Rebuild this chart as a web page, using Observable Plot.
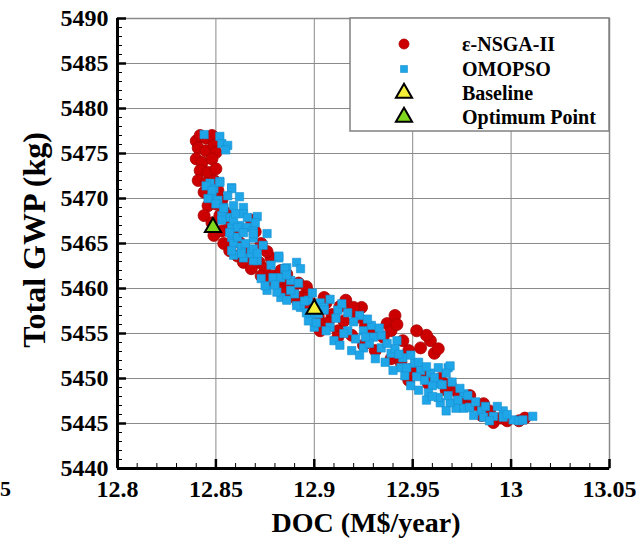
<!DOCTYPE html>
<html><head><meta charset="utf-8">
<script src="https://cdn.jsdelivr.net/npm/d3@7"></script>
<script src="https://cdn.jsdelivr.net/npm/@observablehq/plot@0.6"></script>
<style>body{margin:0;background:#fff} svg{display:block}</style>
</head><body><div id="chart"></div>
<script>
// ---- data (DOC M$/year, Total GWP kg) ----
const nsga = [[12.840,5476.4],[12.842,5477.0],[12.845,5476.7],[12.848,5477.0],[12.841,5475.6],[12.845,5475.3],[12.849,5475.9],[12.850,5475.1],[12.840,5474.4],[12.843,5474.0],[12.848,5474.4],[12.842,5473.1],[12.846,5472.9],[12.850,5473.3],[12.841,5472.0],[12.845,5471.7],[12.849,5472.0],[12.844,5470.7],[12.848,5470.3],[12.851,5470.9],[12.846,5469.2],[12.850,5469.4],[12.853,5469.8],[12.844,5468.1],[12.848,5467.3],[12.852,5468.1],[12.855,5468.4],[12.849,5465.9],[12.853,5466.4],[12.857,5467.0],[12.859,5465.9],[12.854,5465.0],[12.862,5465.1],[12.857,5464.2],[12.865,5464.4],[12.861,5463.6],[12.868,5463.7],[12.864,5462.9],[12.872,5462.9],[12.868,5462.2],[12.875,5462.2],[12.873,5461.4],[12.879,5461.4],[12.878,5460.7],[12.884,5460.7],[12.883,5459.8],[12.889,5460.0],[12.888,5459.1],[12.894,5459.1],[12.892,5458.3],[12.899,5458.3],[12.897,5457.6],[12.904,5457.8],[12.902,5456.9],[12.909,5457.1],[12.907,5456.2],[12.916,5458.7],[12.919,5457.6],[12.915,5456.4],[12.924,5457.9],[12.922,5456.8],[12.912,5455.3],[12.919,5454.8],[12.926,5455.9],[12.930,5455.1],[12.937,5456.1],[12.939,5455.3],[12.935,5454.6],[12.941,5457.0],[12.945,5454.2],[12.948,5453.1],[12.954,5453.4],[12.959,5454.2],[12.961,5452.8],[12.957,5454.8],[12.925,5453.7],[12.931,5453.1],[12.939,5452.2],[12.944,5451.8],[12.950,5451.1],[12.955,5450.7],[12.959,5450.0],[12.964,5450.0],[12.969,5449.4],[12.967,5448.7],[12.973,5448.4],[12.978,5447.6],[12.975,5447.0],[12.982,5447.1],[12.986,5447.2],[12.989,5446.4],[12.985,5445.9],[12.991,5445.1],[12.995,5445.6],[12.998,5445.3],[13.004,5445.3],[13.007,5445.6],[12.979,5448.1],[12.902,5456.4],[12.903,5455.3],[12.912,5454.6],[12.958,5449.4],[12.948,5449.8],[12.868,5467.6],[12.873,5465.0],[12.878,5463.4],[12.883,5462.0],[12.887,5460.7],[12.892,5460.6],[12.897,5459.6],[12.906,5458.4],[12.920,5457.9],[12.870,5466.3],[12.876,5464.1],[12.886,5461.6],[12.896,5460.2],[12.905,5459.0],[12.913,5458.0],[12.942,5456.0],[12.952,5455.3],[12.963,5453.3]];

const omopso = [[12.844,5477.1],[12.852,5476.9],[12.853,5476.1],[12.856,5475.9],[12.855,5475.4],[12.847,5471.7],[12.852,5471.9],[12.849,5471.1],[12.858,5471.2],[12.848,5470.1],[12.851,5469.8],[12.854,5469.0],[12.859,5469.2],[12.864,5469.0],[12.871,5468.0],[12.876,5466.1],[12.856,5467.9],[12.853,5468.1],[12.858,5466.8],[12.862,5467.0],[12.866,5466.8],[12.869,5466.4],[12.858,5465.7],[12.859,5465.0],[12.863,5464.6],[12.868,5464.2],[12.859,5463.7],[12.864,5463.4],[12.871,5463.1],[12.882,5463.4],[12.891,5462.9],[12.886,5462.3],[12.864,5468.3],[12.869,5465.6],[12.882,5463.6],[12.893,5462.2],[12.885,5462.2],[12.879,5461.2],[12.888,5460.9],[12.873,5461.1],[12.869,5463.1],[12.868,5463.9],[12.876,5459.8],[12.883,5459.0],[12.890,5459.4],[12.897,5458.7],[12.903,5458.4],[12.905,5457.9],[12.893,5457.9],[12.883,5461.2],[12.888,5459.8],[12.898,5456.8],[12.905,5457.6],[12.912,5457.6],[12.917,5457.3],[12.923,5457.0],[12.908,5455.7],[12.917,5455.3],[12.925,5455.3],[12.930,5454.6],[12.925,5453.4],[12.934,5453.4],[12.942,5454.2],[12.939,5452.8],[12.945,5452.3],[12.951,5451.7],[12.944,5451.2],[12.954,5450.9],[12.959,5450.6],[12.968,5451.2],[12.969,5451.4],[12.956,5449.8],[12.963,5449.4],[12.919,5453.1],[12.910,5454.2],[12.900,5455.7],[12.897,5456.4],[12.967,5450.6],[12.960,5449.2],[12.964,5447.3],[12.972,5446.7],[12.976,5446.7],[12.979,5446.8],[12.985,5446.4],[12.986,5445.7],[12.991,5445.8],[12.996,5446.4],[12.996,5445.7],[13.001,5445.4],[13.004,5445.3],[13.011,5445.8],[12.976,5448.3],[12.978,5448.1],[12.969,5447.3],[12.963,5447.9],[12.845,5471.4],[12.848,5470.9],[12.852,5471.8],[12.858,5471.1],[12.846,5470.0],[12.850,5469.4],[12.854,5468.9],[12.853,5467.6],[12.859,5467.6],[12.861,5466.8],[12.857,5466.2],[12.861,5465.7],[12.864,5466.2],[12.869,5466.1],[12.865,5465.0],[12.869,5464.4],[12.858,5464.2],[12.863,5463.9],[12.871,5463.9],[12.875,5460.3],[12.881,5459.6],[12.886,5458.7],[12.891,5458.1],[12.896,5457.3],[12.901,5456.2],[12.906,5455.3],[12.911,5456.7],[12.913,5453.7],[12.921,5454.4],[12.928,5453.9],[12.923,5452.6],[12.931,5452.2],[12.936,5451.8],[12.940,5450.9],[12.946,5450.3],[12.949,5449.2],[12.953,5448.7],[12.958,5448.4],[12.957,5447.6],[12.968,5448.1],[12.973,5447.6],[12.967,5446.4],[12.981,5445.9],[12.989,5445.3],[12.929,5455.9],[12.934,5454.8],[12.941,5453.3],[12.949,5452.6],[12.953,5451.8],[12.963,5451.2],[12.874,5464.8],[12.878,5462.6],[12.886,5461.5],[12.880,5460.4],[12.892,5460.6],[12.899,5459.5],[12.895,5458.6],[12.902,5457.2],[12.908,5458.8],[12.914,5458.3],[12.915,5455.0],[12.920,5456.3],[12.927,5456.6],[12.926,5454.6],[12.933,5455.6],[12.937,5453.9],[12.943,5452.7],[12.947,5451.2],[12.952,5450.2],[12.957,5451.3],[12.961,5450.1],[12.965,5449.3],[12.960,5448.0],[12.970,5449.6],[12.974,5448.9],[12.982,5447.4],[12.987,5446.9],[12.993,5446.9],[12.998,5446.0],[13.006,5445.4],[12.870,5467.3],[12.866,5467.9],[12.860,5468.3],[12.856,5470.3],[12.862,5470.2]];

const baseline = [[12.900,5457.7]];
const optimum = [[12.8485,5466.8]];

const xTicks = [12.8, 12.85, 12.9, 12.95, 13, 13.05];
const xTickLabels = ["12.8", "12.85", "12.9", "12.95", "13", "13.05"];
const yTicks = [5440, 5445, 5450, 5455, 5460, 5465, 5470, 5475, 5480, 5485, 5490];
const legendLabels = ["ε-NSGA-II", "OMOPSO", "Baseline", "Optimum Point"];
const xTitle = "DOC (M$/year)";
const yTitle = "Total GWP (kg)";

// ---- layout ----
const W = 636, H = 544, mL = 117, mR = 27, mT = 18, mB = 76;
const innerW = W - mL - mR, innerH = H - mT - mB;
const serif = "'Liberation Serif','Times New Roman',serif";
const xMinor = d3.range(0, 26).map(i => 12.8 + i * 0.01).filter((v, i) => i % 5 !== 0);
const yMinor = d3.range(5440, 5491).filter(v => v % 5 !== 0);
const red = "#cc0000", blue = "#1fa6e8", yellow = "#f4f03a", green = "#7fd81e";

const chart = Plot.plot({
  width: W, height: H,
  marginLeft: mL, marginRight: mR, marginTop: mT, marginBottom: mB,
  style: {fontFamily: serif, fontWeight: "bold", background: "#fff", color: "#000"},
  x: {domain: [12.8, 13.05]},
  y: {domain: [5440, 5490]},
  marks: [
    Plot.gridX(xTicks, {stroke: "#8a8a8a", strokeOpacity: 1, strokeWidth: 1}),
    Plot.gridY(yTicks, {stroke: "#8a8a8a", strokeOpacity: 1, strokeWidth: 1}),
    Plot.frame({stroke: "#8a8a8a", strokeWidth: 1.5}),
    Plot.dot(nsga, {x: d => d[0], y: d => d[1], r: 6, fill: red, stroke: "#a80000", strokeWidth: 0.8}),
    Plot.dot(omopso, {x: d => d[0], y: d => d[1], symbol: "square", r: 4.7, fill: blue, stroke: "#1790d2", strokeWidth: 0.6}),
    Plot.dot(baseline, {x: d => d[0], y: d => d[1], symbol: "triangle", r: 6, fill: yellow, stroke: "#000", strokeWidth: 2}),
    Plot.dot(optimum, {x: d => d[0], y: d => d[1], symbol: "triangle", r: 6, fill: green, stroke: "#000", strokeWidth: 2}),
    Plot.tickX(xMinor, {x: d => d, insetTop: innerH - 5, stroke: "#000", strokeWidth: 1}),
    Plot.tickX(xTicks, {x: d => d, insetTop: innerH - 9, stroke: "#000", strokeWidth: 2.5}),
    Plot.tickY(yMinor, {y: d => d, insetRight: innerW - 5, stroke: "#000", strokeWidth: 1}),
    Plot.tickY(yTicks, {y: d => d, insetRight: innerW - 9, stroke: "#000", strokeWidth: 2.5}),
    Plot.ruleX([12.8], {stroke: "#000", strokeWidth: 3}),
    Plot.ruleY([5440], {stroke: "#000", strokeWidth: 3}),
    Plot.axisX(xTicks, {tickSize: 0, tickPadding: 11, fontSize: 24, fontWeight: "bold", label: null,
      tickFormat: d => xTickLabels[xTicks.indexOf(d)]}),
    Plot.axisY(yTicks, {tickSize: 0, tickPadding: 9, fontSize: 24, fontWeight: "bold", label: null,
      tickFormat: d => String(d)})
  ]
});
document.getElementById("chart").appendChild(chart);

// ---- titles & legend ----
const svg = d3.select(chart);
svg.append("text").text(xTitle)
  .attr("x", 366).attr("y", 532).attr("text-anchor", "middle")
  .attr("font-family", serif).attr("font-weight", "bold").attr("font-size", 28).attr("fill", "#000");
svg.append("text").text(yTitle)
  .attr("transform", "translate(45,240) rotate(-90)").attr("text-anchor", "middle")
  .attr("font-family", serif).attr("font-weight", "bold").attr("font-size", 32).attr("fill", "#000");
svg.append("text").text("5")
  .attr("x", 0).attr("y", 496).attr("text-anchor", "start")
  .attr("font-family", serif).attr("font-weight", "bold").attr("font-size", 22).attr("fill", "#000");

const lg = svg.append("g");
lg.append("rect").attr("x", 350).attr("y", 18).attr("width", 259).attr("height", 113)
  .attr("fill", "#fff").attr("stroke", "#808080").attr("stroke-width", 1.5);
const rows = [44, 69, 93, 117];
const sym = [
  {type: d3.symbolCircle, size: Math.PI * 5 * 5, fill: red, stroke: "#a80000", sw: 0.8},
  {type: d3.symbolSquare, size: 49, fill: blue, stroke: "#1790d2", sw: 0.6},
  {type: d3.symbolTriangle, size: Math.PI * 36, fill: yellow, stroke: "#000", sw: 2},
  {type: d3.symbolTriangle, size: Math.PI * 36, fill: green, stroke: "#000", sw: 2}
];
legendLabels.forEach((lab, i) => {
  lg.append("path").attr("d", d3.symbol(sym[i].type, sym[i].size)())
    .attr("transform", `translate(404,${rows[i]})`)
    .attr("fill", sym[i].fill).attr("stroke", sym[i].stroke).attr("stroke-width", sym[i].sw);
  lg.append("text").text(lab).attr("x", 462).attr("y", rows[i]).attr("dy", "0.35em")
    .attr("text-anchor", "start")
    .attr("font-family", serif).attr("font-weight", "bold").attr("font-size", 20).attr("fill", "#000");
});
</script>
</body></html>
